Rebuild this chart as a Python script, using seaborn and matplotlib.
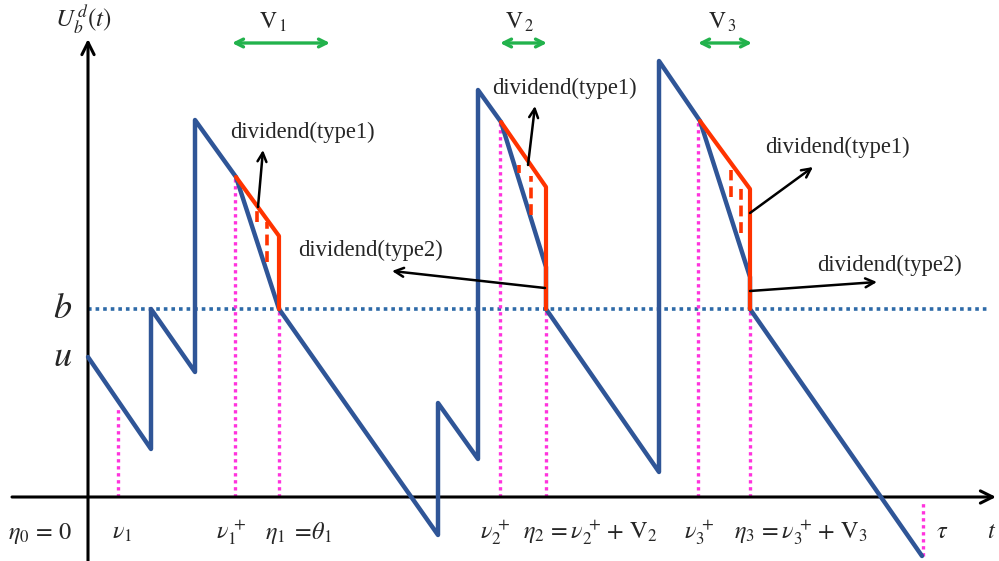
import numpy as np
import pandas as pd
import matplotlib
matplotlib.use("Agg")
import matplotlib.pyplot as plt
import seaborn as sns

# Surplus path U_b^d(t): vertices of the jump / linear-drift trajectory
path_t = [0, 63, 63, 107, 107, 148, 191, 350, 350, 390, 390, 413, 458, 458,
          571, 571, 612, 662, 662, 834]
path_u = [140, 48, 188, 125, 377, 320, 188, -38, 94, 38, 407, 375, 230, 188,
          25, 436, 376, 220, 188, -59]

barrier_b = 188
initial_u = 140

# Trajectory without dividends over each dividend window (red)
nodiv_t = [[148, 191, 191], [413, 458, 458], [612, 662, 662]]
nodiv_u = [[320, 261, 188], [375, 310, 188], [376, 308, 188]]

# Lump-sum dividend steps (red dashed)
step_t = [169, 179, 431, 443, 643, 653]
step_top = [287, 275, 332, 321, 327, 310]
step_bot = [275, 235, 324, 282, 300, 264]

# Time markers (magenta dotted)
mark_t = [30, 147, 191, 412, 458, 610, 662, 835]
mark_top = [90, 320, 188, 375, 188, 376, 188, -6]
mark_bot = [0, 0, 0, 0, 0, 0, 0, -59]

# Labels along the time axis
tick_t = [-48, 34, 143, 211, 407, 503, 611, 713, 854, 904]
tick_labels = [r"$\eta_0\,=\,0$", r"$\nu_1$", r"$\nu_1^{\,+}$",
               r"$\eta_1\;=\!\theta_1$", r"$\nu_2^{\,+}$",
               r"$\eta_2\,=\nu_2^{\,+}+\,\mathrm{V}_2$", r"$\nu_3^{\,+}$",
               r"$\eta_3\,=\nu_3^{\,+}+\,\mathrm{V}_3$", r"$\tau$", r"$t$"]

# Dividend windows V_i
win_start = [144, 412, 610]
win_end = [242, 459, 664]
win_label_t = [185, 432, 634]
win_labels = [r"$\mathrm{V}_{\,1}$", r"$\mathrm{V}_{\,2}$", r"$\mathrm{V}_{\,3}$"]

# Dividend annotations
note_text = ["dividend(type1)", "dividend(type2)", "dividend(type1)",
             "dividend(type1)", "dividend(type2)"]
note_t = [142, 210, 404, 677, 729]
note_u = [365, 247, 409, 350, 232]
arrow_from_t = [170, 457, 440, 662, 662]
arrow_from_u = [290, 209, 332, 284, 206]
arrow_to_t = [175, 304, 447, 725, 789]
arrow_to_u = [347, 226, 391, 330, 215]

sns.set_style("white")
plt.rcParams["mathtext.fontset"] = "stix"
plt.rcParams["font.family"] = ["Liberation Serif", "DejaVu Serif"]

BLUE = "#2F5597"
RED = "#FF3300"
MAGENTA = "#FF33DD"
GREEN = "#22B24C"
BDOT = "#2E6AA8"

fig = plt.figure(figsize=(9.99, 5.61), dpi=100)
ax = fig.add_axes([0, 0, 1, 1])

# coordinate axes
ax.annotate("", xy=(0, 458), xytext=(0, -64),
            arrowprops=dict(arrowstyle="->", color="black", lw=2.2,
                            mutation_scale=22, shrinkA=0, shrinkB=0))
ax.annotate("", xy=(908, 0), xytext=(-76, 0),
            arrowprops=dict(arrowstyle="->", color="black", lw=2.2,
                            mutation_scale=22, shrinkA=0, shrinkB=0))

# barrier b
ax.plot([0, 902], [barrier_b, barrier_b], color=BDOT, lw=2.6,
        linestyle=(0, (1, 1.1)), zorder=2)

# time markers
for t, top, bot in zip(mark_t, mark_top, mark_bot):
    ax.plot([t, t], [bot, top], color=MAGENTA, lw=2.4,
            linestyle=(0, (1, 1.1)), zorder=2)

# surplus path
path_df = pd.DataFrame({"t": path_t, "U": path_u})
sns.lineplot(data=path_df, x="t", y="U", sort=False, estimator=None,
             color=BLUE, lw=3.2, ax=ax, zorder=3)

# trajectories without dividends
for ts, us in zip(nodiv_t, nodiv_u):
    sns.lineplot(x=ts, y=us, sort=False, estimator=None, color=RED, lw=3.0,
                 ax=ax, zorder=4)

for t, top, bot in zip(step_t, step_top, step_bot):
    ax.plot([t, t], [bot, top], color=RED, lw=2.6,
            linestyle=(0, (3.0, 1.6)), zorder=4)

ax.set_xlim(-88, 911)
ax.set_ylim(-64, 497)
ax.axis("off")

# axis labels
ax.text(-5, 477, r"$U_{b}^{\,d}(t)$", fontsize=18, ha="center", va="center")
ax.text(-25, barrier_b, r"$b$", fontsize=26, ha="center", va="center")
ax.text(-25, initial_u, r"$u$", fontsize=26, ha="center", va="center")
for t, lab in zip(tick_t, tick_labels):
    ax.text(t, -36, lab, fontsize=17.5, ha="center", va="center")

# dividend windows
for s, e, lt, lab in zip(win_start, win_end, win_label_t, win_labels):
    ax.annotate("", xy=(e, 454), xytext=(s, 454),
                arrowprops=dict(arrowstyle="<->", color=GREEN, lw=2.4,
                                mutation_scale=14, shrinkA=0, shrinkB=0))
    ax.text(lt, 475, lab, fontsize=17, ha="center", va="center")

# dividend annotations
for txt, tx, ty in zip(note_text, note_t, note_u):
    ax.text(tx, ty, txt, fontsize=16.3, ha="left", va="center")
for ft, fu, tt, tu in zip(arrow_from_t, arrow_from_u, arrow_to_t, arrow_to_u):
    ax.annotate("", xy=(tt, tu), xytext=(ft, fu),
                arrowprops=dict(arrowstyle="->", color="black", lw=1.8,
                                mutation_scale=16, shrinkA=0, shrinkB=0),
                zorder=5)

fig.savefig("out.png", dpi=100)
